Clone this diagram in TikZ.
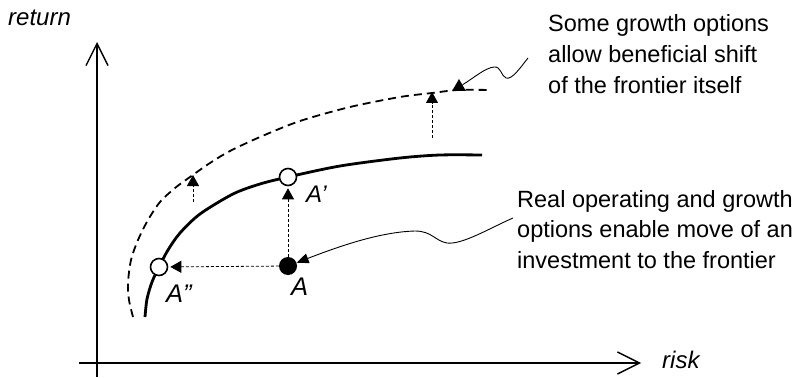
\documentclass[tikz,border=0pt]{standalone}
\usepackage{fontspec}
\setmainfont{Liberation Sans}
\usetikzlibrary{arrows.meta,shapes.geometric}
\begin{document}
\begin{tikzpicture}[x=1pt,y=-1pt,
  txt/.style={font=\fontsize{23.5}{30.5}\selectfont, inner sep=0pt, text=black},
  lab/.style={font=\fontsize{24}{30}\selectfont\itshape, inner sep=0pt},
  biglab/.style={font=\fontsize{25.5}{30}\selectfont\itshape, inner sep=0pt},
  axis/.style={line width=1.4pt, -{Straight Barb[length=22pt,width=22pt,line width=1.4pt]}},
  frontier/.style={line width=2.8pt},
  shifted/.style={line width=1.8pt, dash pattern=on 8pt off 5pt},
  dotarrow/.style={line width=0.8pt, dash pattern=on 3pt off 2pt, -{Triangle[length=11pt,width=12pt]}},
  annot/.style={line width=0.9pt},
  opendot/.style={circle, draw, fill=white, line width=1.6pt, minimum size=17pt, inner sep=0pt},
  fulldot/.style={circle, fill=black, minimum size=18pt, inner sep=0pt},
  tri/.style={regular polygon, regular polygon sides=3, fill=black, minimum size=16pt, inner sep=0pt}
]
\useasboundingbox (0,0) rectangle (799,377);
% axes
\coordinate (yb) at (97,377);
\coordinate (yt) at (97,42);
\coordinate (xl) at (79,363);
\coordinate (xr) at (641,363);
\draw[axis] (yb) -- (yt);
\draw[axis] (xl) -- (xr);
\node[lab, anchor=base west] (ret) at (8,26) {return};
\node[lab, anchor=base west] (rsk) at (662,368) {risk};
% frontiers
\draw[frontier] plot[smooth] coordinates {(145,317) (147,299) (152,282) (159,267) (168,250) (180,233) (200,214) (233,194) (260,184) (288,177) (340,166) (400,158) (440,155) (482,155)};
\draw[shifted] plot[smooth] coordinates {(133,317) (129,300) (128,283) (131,260) (138,240) (148,220) (160,202) (175,188) (190,177) (210,163) (230,151) (260,137) (300,121) (350,107) (400,97) (432,93) (458,90) (491,90)};
% points
\node[fulldot] (A) at (288,266) {};
\node[opendot] (Ap) at (288,177) {};
\node[opendot] (App) at (159,267) {};
\draw[dotarrow, shorten >=2pt] (A) -- (Ap);
\draw[dotarrow, shorten >=2pt] (A) -- (App);
\node[biglab, anchor=base west] (Alab) at (291,295) {A};
\node[lab, anchor=base west] (Aplab) at (306,202) {A’};
\node[biglab, anchor=base west] (Applab) at (166,302) {A”};
% frontier shift arrows
\coordinate (s1b) at (193,202);
\coordinate (s1t) at (193,175);
\coordinate (s2b) at (432,138);
\coordinate (s2t) at (432,92);
\draw[dotarrow] (s1b) -- (s1t);
\draw[dotarrow] (s2b) -- (s2t);
\node[tri] (T) at (459,87) {};
% annotations
\coordinate (w1) at (528,58);
\draw[annot] (w1) .. controls (520,68) and (512,80) .. (506,78) .. controls (501,76) and (501,66) .. (494,67) .. controls (485,68) and (475,77) .. (T);
\coordinate (w2) at (513,218);
\draw[annot, -{Triangle[length=12pt,width=10pt]}] (w2) .. controls (490,228) and (462,245) .. (447,243) .. controls (435,241) and (432,231) .. (415,231) .. controls (380,232) and (340,246) .. (A);
\node[txt, anchor=base west, align=left] (t1) at (548,93) {Some growth options\\allow beneficial shift\\of the frontier itself};
\node[txt, anchor=base west, align=left] (t2) at (517,268) {Real operating and growth\\options enable move of an\\investment to the frontier};
\end{tikzpicture}
\end{document}
